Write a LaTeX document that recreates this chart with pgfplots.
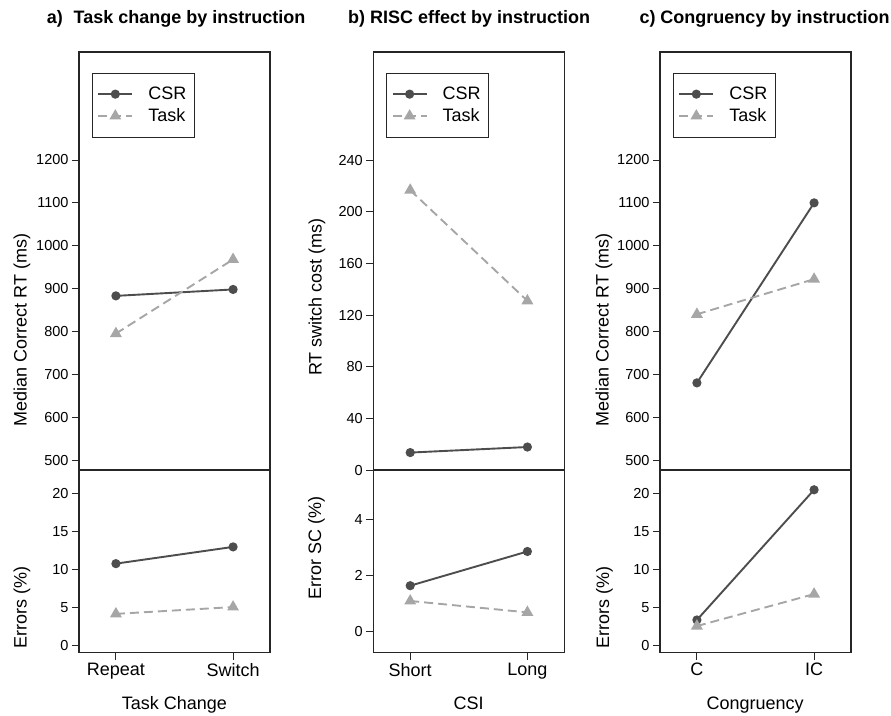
\documentclass[border=0pt]{standalone}
\usepackage{fontspec}
\setmainfont{Liberation Sans}
\usepackage{pgfplots}
\pgfplotsset{compat=1.18}
\definecolor{csr}{HTML}{4D4D4D}
\definecolor{task}{HTML}{A6A6A6}
\definecolor{frame}{HTML}{262626}
\pgfplotsset{
  panel/.style={scale only axis, width=191pt, xmin=0.685, xmax=2.315,
    tick align=outside, tick pos=left, major tick length=7pt,
    axis line style={frame, line width=1.1pt},
    every tick/.style={frame, line width=0.9pt},
    /pgf/number format/assume math mode=true,
    /pgf/number format/1000 sep={},
    yticklabel style={font=\fontsize{14.5}{17}\selectfont},
    xticklabel style={font=\fontsize{18}{20}\selectfont},
    clip=false,
    legend image code/.code={\draw[mark repeat=2,mark phase=2,##1] plot coordinates {(0pt,0pt) (17pt,0pt) (34pt,0pt)};},
    legend style={at={(0.068,0.95)}, anchor=north west, draw=frame, line width=0.8pt,
      font=\fontsize{18}{20}\selectfont, inner xsep=5pt, inner ysep=10pt,
      nodes={inner ysep=3.8pt, inner xsep=3pt}, column sep=12pt, cells={anchor=west}}},
  top/.style={panel, height=418pt, xtick=\empty},
  bot/.style={panel, height=182.7pt, xtick={1,2}},
  csrline/.style={color=csr, line width=1.9pt, mark=*, mark size=3.6pt, mark options={solid}},
  taskline/.style={color=task, line width=1.9pt, dash pattern=on 9pt off 5pt, mark=triangle*, mark size=5pt, mark options={solid}},
}
\begin{document}
\begin{tikzpicture}
\path[use as bounding box] (0pt,0pt) rectangle (891pt,-715pt);
% ---------- a ----------
\begin{axis}[top, at={(79pt,-52pt)}, anchor=north west, ymin=476.7, ymax=1452, ytick={500,600,...,1200}]
\addplot[csrline] coordinates {(1,883) (2,898)};
\addplot[taskline] coordinates {(1,795) (2,968)};
\legend{CSR,Task}
\end{axis}
\begin{axis}[bot, at={(79pt,-470pt)}, anchor=north west, ymin=-0.9, ymax=23.1, ytick={0,5,...,20}, xticklabels={Repeat,Switch}]
\addplot[csrline] coordinates {(1,10.8) (2,13.0)};
\addplot[taskline] coordinates {(1,4.2) (2,5.1)};
\end{axis}
% ---------- b ----------
\begin{axis}[top, at={(373.3pt,-52pt)}, anchor=north west, ymin=0, ymax=323.7, ytick={0,40,...,240}]
\addplot[csrline] coordinates {(1,13.5) (2,17.8)};
\addplot[taskline] coordinates {(1,216.7) (2,131)};
\legend{CSR,Task}
\end{axis}
\begin{axis}[bot, at={(373.3pt,-470pt)}, anchor=north west, ymin=-0.78, ymax=5.79, ytick={0,2,4}, xticklabels={Short,Long}]
\addplot[csrline] coordinates {(1,1.63) (2,2.86)};
\addplot[taskline] coordinates {(1,1.08) (2,0.67)};
\end{axis}
% ---------- c ----------
\begin{axis}[top, at={(660pt,-52pt)}, anchor=north west, ymin=476.7, ymax=1452, ytick={500,600,...,1200}]
\addplot[csrline] coordinates {(1,680) (2,1100)};
\addplot[taskline] coordinates {(1,840) (2,922)};
\legend{CSR,Task}
\end{axis}
\begin{axis}[bot, at={(660pt,-470pt)}, anchor=north west, ymin=-0.9, ymax=23.1, ytick={0,5,...,20}, xticklabels={C,IC}]
\addplot[csrline] coordinates {(1,3.4) (2,20.5)};
\addplot[taskline] coordinates {(1,2.6) (2,6.8)};
\end{axis}
% ---------- titles and labels ----------
\begin{scope}[every node/.style={inner sep=0pt}]
\node[anchor=base west, font=\fontsize{18}{20}\selectfont\bfseries] at (46.7pt,-23pt) {a)\hspace{0.6em}Task change by instruction};
\node[anchor=base west, font=\fontsize{18}{20}\selectfont\bfseries] at (348pt,-23pt) {b) RISC effect by instruction};
\node[anchor=base west, font=\fontsize{18}{20}\selectfont\bfseries] at (639.3pt,-23pt) {c) Congruency by instruction};
\node[anchor=base, font=\fontsize{18}{20}\selectfont] at (174.5pt,-709pt) {Task Change};
\node[anchor=base, font=\fontsize{18}{20}\selectfont] at (468.7pt,-709pt) {CSI};
\node[anchor=base, font=\fontsize{18}{20}\selectfont] at (755.2pt,-709pt) {Congruency};
\node[anchor=base, rotate=90, font=\fontsize{18}{20}\selectfont] at (26.7pt,-330pt) {Median Correct RT (ms)};
\node[anchor=base, rotate=90, font=\fontsize{18}{20}\selectfont] at (26.7pt,-607.5pt) {Errors (\%)};
\node[anchor=base, rotate=90, font=\fontsize{18}{20}\selectfont] at (321.7pt,-297pt) {RT switch cost (ms)};
\node[anchor=base, rotate=90, font=\fontsize{18}{20}\selectfont] at (321pt,-548pt) {Error SC (\%)};
\node[anchor=base, rotate=90, font=\fontsize{18}{20}\selectfont] at (608.5pt,-330pt) {Median Correct RT (ms)};
\node[anchor=base, rotate=90, font=\fontsize{18}{20}\selectfont] at (609pt,-607.5pt) {Errors (\%)};
\end{scope}
\end{tikzpicture}
\end{document}
